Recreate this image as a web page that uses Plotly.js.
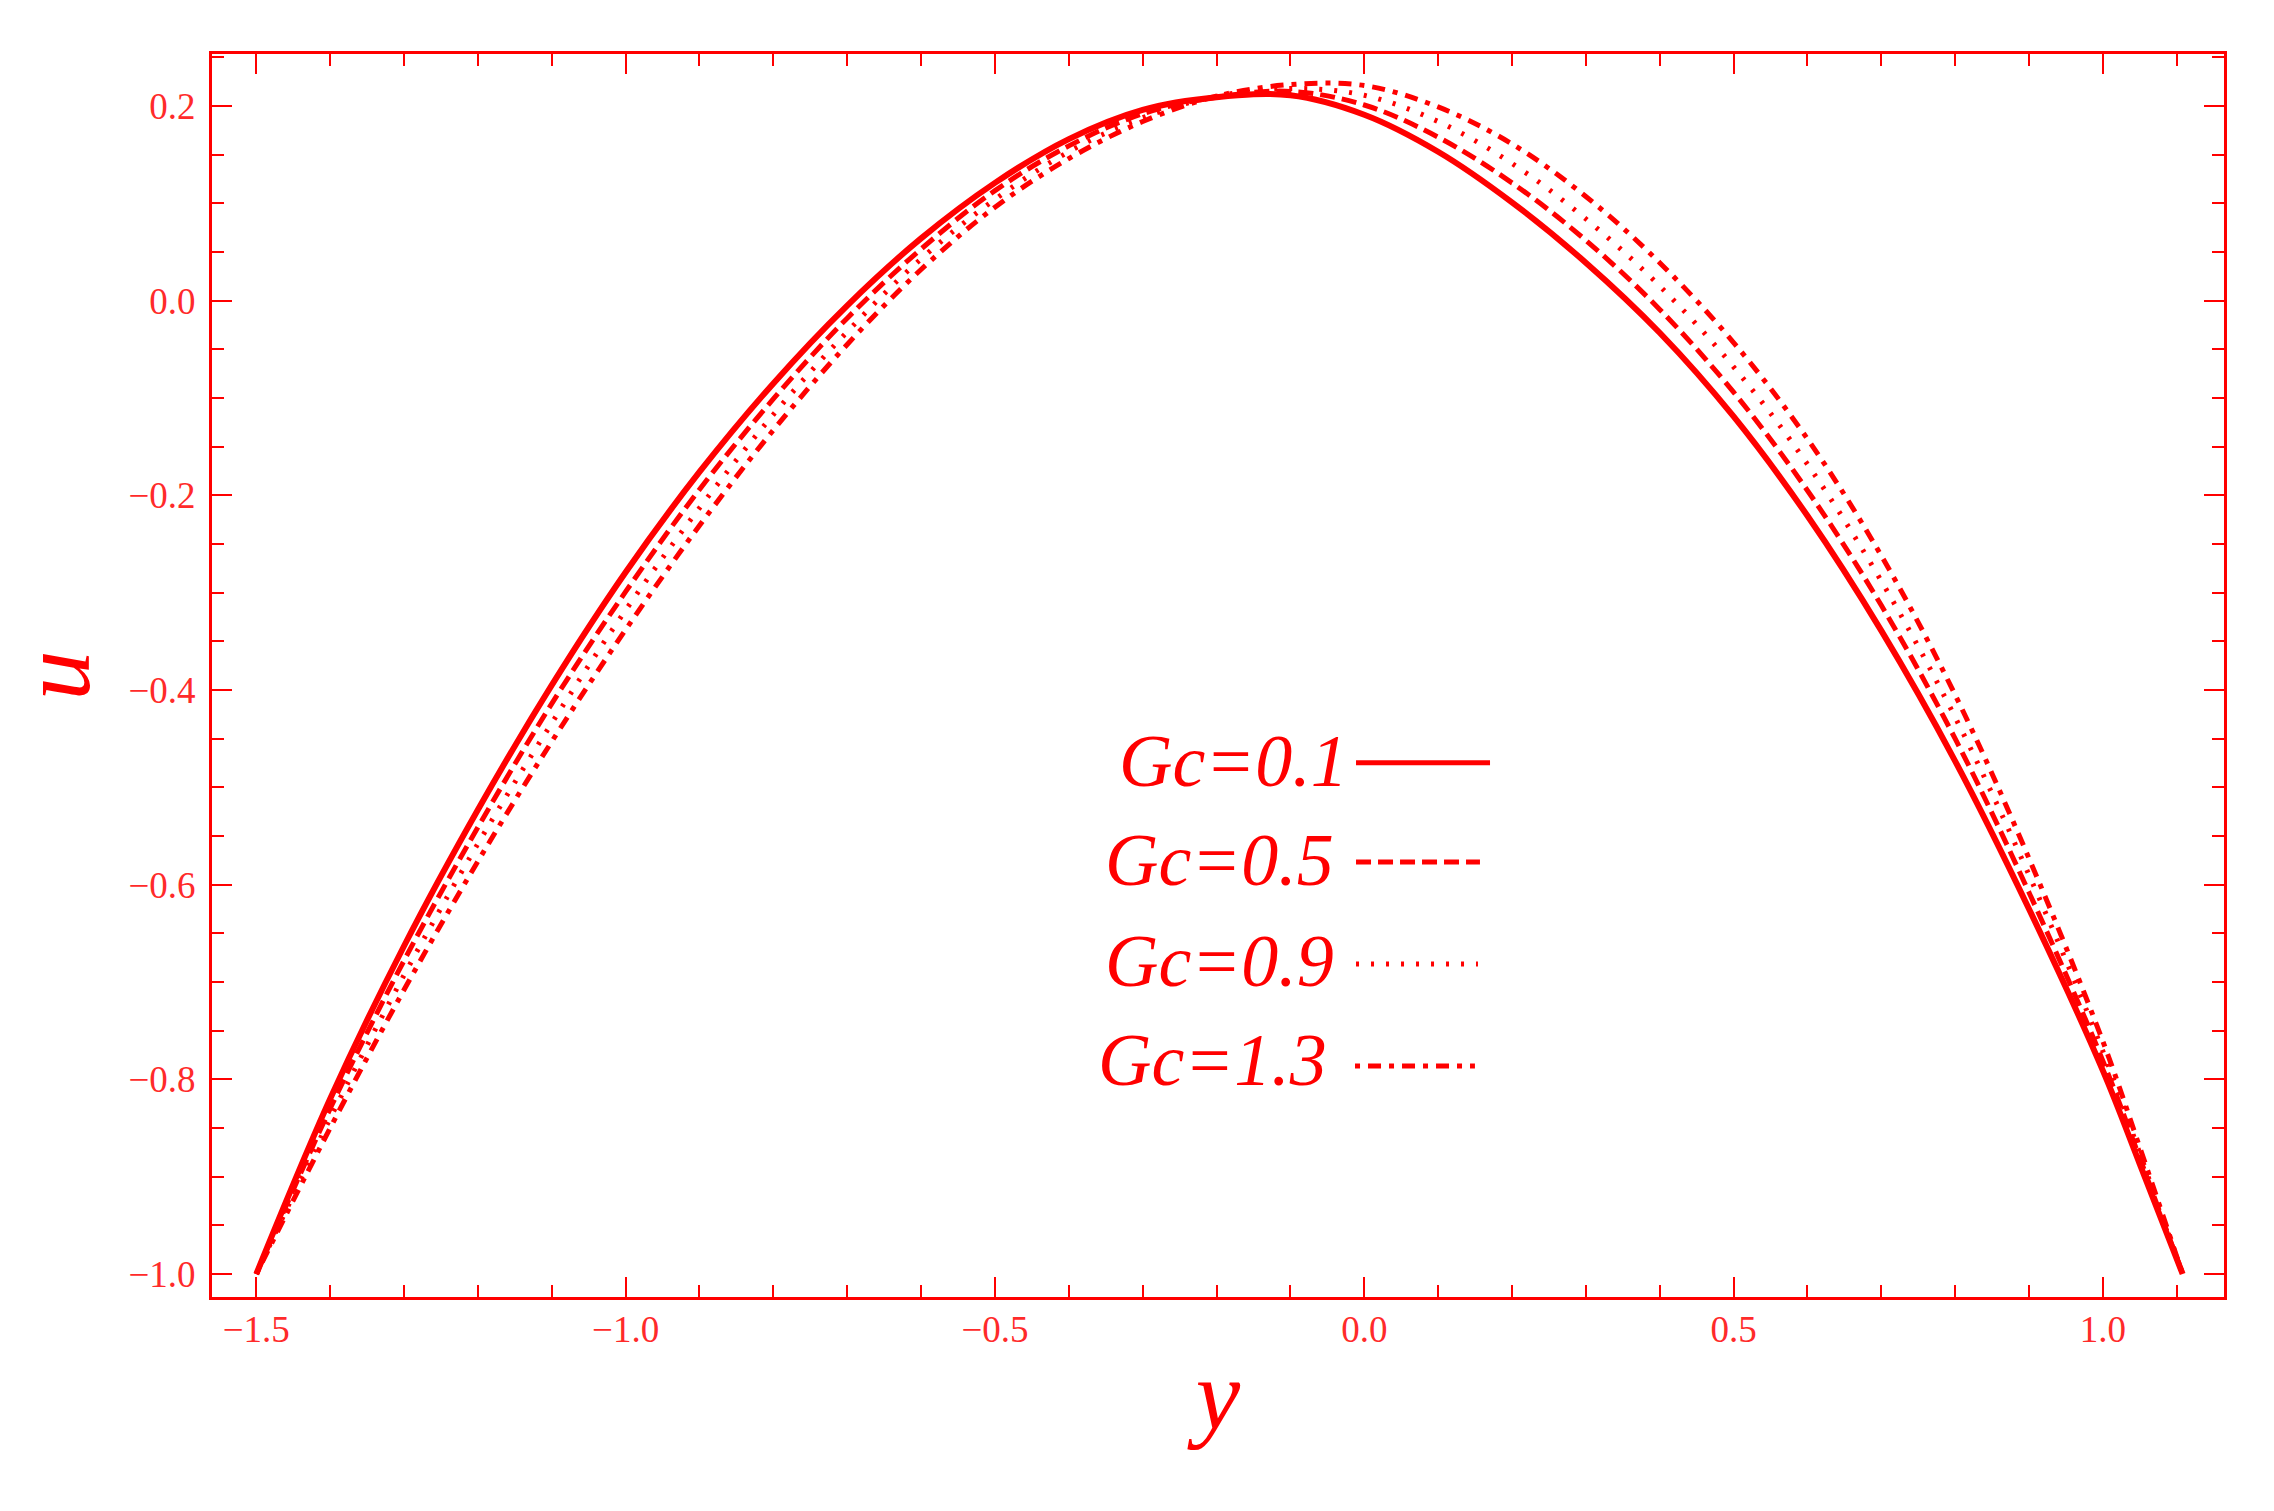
<!DOCTYPE html>
<html>
<head>
<meta charset="utf-8">
<script src="https://cdn.plot.ly/plotly-3.0.1.min.js"></script>
<style>
  html, body { margin: 0; padding: 0; background: #fff; }
  #chart { width: 2274px; height: 1511px; }
</style>
</head>
<body>
<div id="chart"></div>
<script>
// ── data: u(y) for four values of Gc ──
const yGrid = [-1.5, -1.4, -1.3, -1.2, -1.1, -1.0, -0.9, -0.8, -0.7, -0.6, -0.5, -0.4, -0.3, -0.2,
               -0.1, 0.0, 0.1, 0.2, 0.3, 0.4, 0.5, 0.6, 0.7, 0.8, 0.9, 1.0, 1.05, 1.108];

const uGc01 = [-1.0, -0.820, -0.663, -0.523, -0.395, -0.279, -0.176, -0.085, -0.005, 0.064, 0.121, 0.166, 0.196, 0.209,
               0.211, 0.191, 0.153, 0.101, 0.039, -0.033, -0.119, -0.221, -0.339, -0.473, -0.625, -0.791, -0.887, -1.0];
const uGc05 = [-1.0, -0.830, -0.678, -0.541, -0.414, -0.299, -0.194, -0.101, -0.018, 0.053, 0.113, 0.159, 0.192, 0.209,
               0.215, 0.201, 0.168, 0.121, 0.062, -0.009, -0.094, -0.195, -0.313, -0.450, -0.608, -0.781, -0.881, -1.0];
const uGc09 = [-1.0, -0.840, -0.693, -0.558, -0.434, -0.318, -0.213, -0.117, -0.032, 0.043, 0.104, 0.153, 0.188, 0.210,
               0.218, 0.211, 0.184, 0.141, 0.084, 0.015, -0.068, -0.168, -0.288, -0.428, -0.590, -0.771, -0.876, -1.0];
const uGc13 = [-1.0, -0.850, -0.708, -0.576, -0.453, -0.338, -0.231, -0.133, -0.045, 0.032, 0.096, 0.146, 0.184, 0.210,
               0.222, 0.221, 0.199, 0.161, 0.107, 0.039, -0.043, -0.142, -0.262, -0.405, -0.573, -0.761, -0.870, -1.0];

const gcLabels = ['Gc=0.1', 'Gc=0.5', 'Gc=0.9', 'Gc=1.3'];
const series = [uGc01, uGc05, uGc09, uGc13];

// ── styling ──
const RED = '#ff0000';
const LABEL_RED = '#ff2a2a';
const SERIF = '"Liberation Serif", "DejaVu Serif", serif';
const DASHES = ['solid', '15px,7px', '3px,12px', '5px,8px,13px,8px'];
const WIDTHS = [6, 5, 5, 5];

// legend rows: text right edge and sample line, in paper units
const LEGEND_ROWS = [
    { tx: 0.5656, ty: 0.4312, x0: 0.5686, x1: 0.6352, ly: 0.4299 },
    { tx: 0.5586, ty: 0.3516, x0: 0.5686, x1: 0.6302, ly: 0.3500 },
    { tx: 0.5586, ty: 0.2703, x0: 0.5686, x1: 0.6292, ly: 0.2679 },
    { tx: 0.5552, ty: 0.1907, x0: 0.5681, x1: 0.6277, ly: 0.1858 }
];

const traces = series.map((u, i) => ({
    x: yGrid, y: u, type: 'scatter', mode: 'lines',
    name: gcLabels[i],
    line: { color: RED, width: WIDTHS[i], dash: DASHES[i], shape: 'spline' },
    showlegend: false
}));

const annotations = gcLabels.map((lbl, i) => ({
    xref: 'paper', yref: 'paper',
    x: LEGEND_ROWS[i].tx, y: LEGEND_ROWS[i].ty,
    xanchor: 'right', yanchor: 'middle',
    text: '<i>' + lbl + '</i>', showarrow: false,
    font: { family: SERIF, size: 74, color: RED }
}));

const shapes = gcLabels.map((lbl, i) => ({
    type: 'line', xref: 'paper', yref: 'paper',
    x0: LEGEND_ROWS[i].x0, x1: LEGEND_ROWS[i].x1,
    y0: LEGEND_ROWS[i].ly, y1: LEGEND_ROWS[i].ly,
    line: { color: RED, width: 5, dash: DASHES[i] }
}));

function frameAxis(extra) {
    return Object.assign({
        showline: true, linecolor: RED, linewidth: 3, mirror: 'allticks',
        showgrid: false, zeroline: false,
        ticks: 'inside', ticklen: 20, tickwidth: 2, tickcolor: RED,
        tickformat: '.1f',
        tickfont: { family: SERIF, size: 37, color: LABEL_RED }
    }, extra);
}

const layout = {
    width: 2274, height: 1511,
    paper_bgcolor: '#fff', plot_bgcolor: '#fff',
    margin: { l: 212, r: 50, t: 54, b: 214 },
    showlegend: false,
    xaxis: frameAxis({
        range: [-1.56, 1.164], tick0: -1.5, dtick: 0.5,
        minor: { ticks: 'inside', ticklen: 12, tickwidth: 2, tickcolor: RED, dtick: 0.1, tick0: -1.5, showgrid: false },
        ticklabelstandoff: -2,
        title: { text: '<i>y</i>', font: { family: SERIF, size: 100, color: RED }, standoff: 10 }
    }),
    yaxis: frameAxis({
        range: [-1.0236, 0.2534], tick0: 0, dtick: 0.2,
        minor: { ticks: 'inside', ticklen: 12, tickwidth: 2, tickcolor: RED, dtick: 0.05, tick0: 0, showgrid: false },
        ticklabelstandoff: 6,
        title: { text: '<i>u</i>', font: { family: SERIF, size: 100, color: RED }, standoff: 40 }
    }),
    annotations: annotations,
    shapes: shapes
};

Plotly.newPlot('chart', traces, layout, { staticPlot: true, displayModeBar: false });
</script>
</body>
</html>
